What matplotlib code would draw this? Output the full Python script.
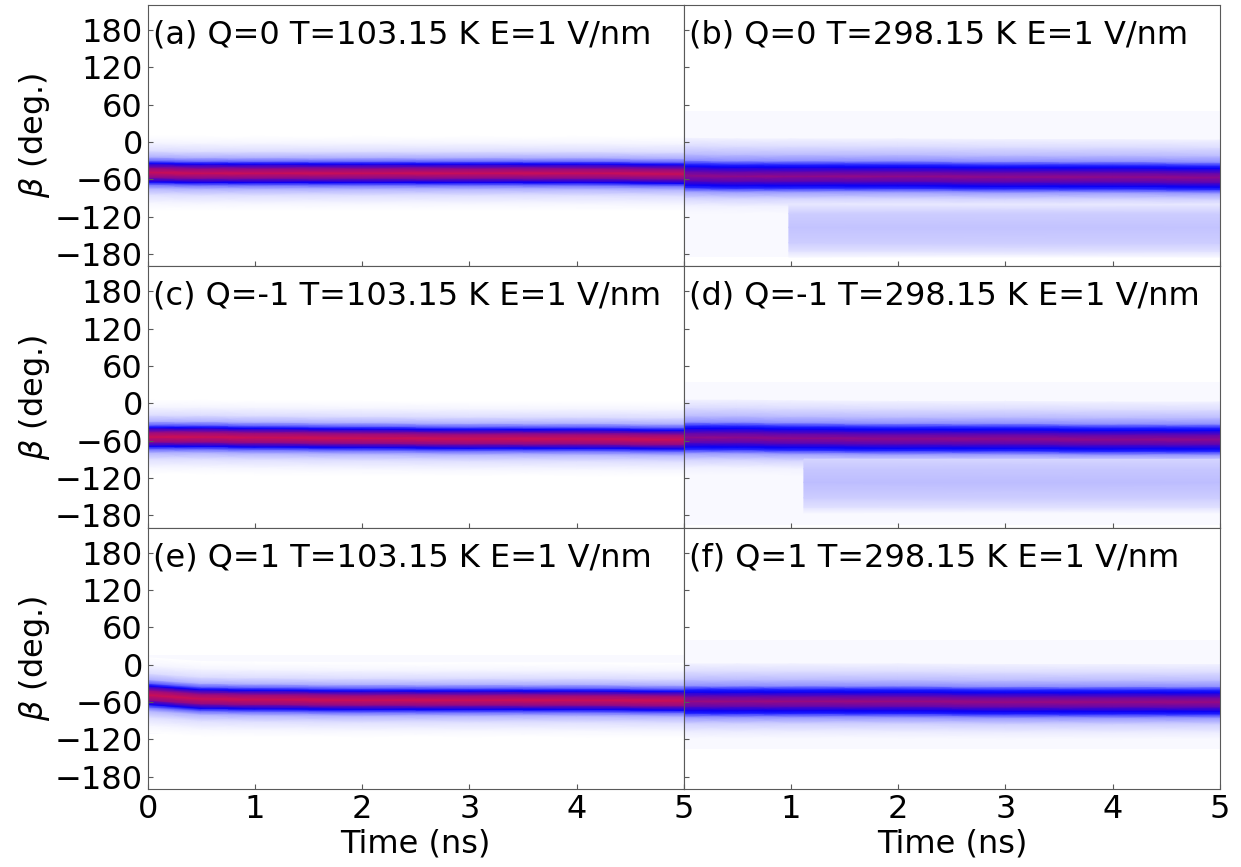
import numpy as np
import matplotlib
matplotlib.use("Agg")
import matplotlib.pyplot as plt
from matplotlib.colors import LinearSegmentedColormap

# panel titles
titles = ["(a) Q=0 T=103.15 K E=1 V/nm", "(b) Q=0 T=298.15 K E=1 V/nm",
          "(c) Q=-1 T=103.15 K E=1 V/nm", "(d) Q=-1 T=298.15 K E=1 V/nm",
          "(e) Q=1 T=103.15 K E=1 V/nm", "(f) Q=1 T=298.15 K E=1 V/nm"]

# time points (ns) where the band centre was read
t_pts = [0, 0.5, 1, 2, 3, 4, 5]

# centre of the main beta band (deg) at each time point, per panel
center_a = [-49, -50, -50, -50, -50, -50, -51]
center_b = [-54, -55, -55, -55, -56, -56, -57]
center_c = [-54, -54, -55, -56, -57, -57, -58]
center_d = [-55, -55, -56, -57, -57, -58, -58]
center_e = [-49, -55, -56, -57, -57, -57, -58]
center_f = [-59, -59, -59, -59, -60, -60, -60]

# density profile across the band: offset from centre (deg) and relative density
offsets = [-60, -48, -35, -25, -19, -15, -8, 0, 8, 15, 19, 25, 35, 48, 60]
dens_a = [0, 0.02, 0.07, 0.16, 0.3, 0.52, 0.82, 0.97, 0.82, 0.52, 0.3, 0.16, 0.07, 0.02, 0]
dens_b = [0.012, 0.03, 0.09, 0.2, 0.42, 0.52, 0.72, 0.84, 0.72, 0.52, 0.42, 0.22, 0.13, 0.07, 0.03]
dens_c = [0, 0.02, 0.07, 0.16, 0.32, 0.52, 0.84, 0.98, 0.84, 0.52, 0.32, 0.16, 0.07, 0.02, 0]
dens_d = [0.012, 0.03, 0.09, 0.2, 0.42, 0.52, 0.72, 0.84, 0.72, 0.52, 0.42, 0.22, 0.13, 0.07, 0.03]
dens_e = [0, 0.02, 0.07, 0.16, 0.32, 0.52, 0.84, 0.98, 0.84, 0.52, 0.32, 0.16, 0.07, 0.02, 0]
dens_f = [0.012, 0.04, 0.1, 0.22, 0.44, 0.53, 0.74, 0.86, 0.74, 0.53, 0.44, 0.22, 0.13, 0.07, 0.03]

# faint range covered by any sample (deg): low, high
range_a = [-110, 5]
range_b = [-185, 50]
range_c = [-107, 0]
range_d = [-196, 35]
range_e = [-112, 15]
range_f = [-135, 40]

# second (lower) population seen at 298.15 K for Q=0 and Q=-1
sec_onset = {"b": 0.98, "d": 1.12}
sec_center = {"b": -137, "d": -127}
sec_offsets = {"b": [-48, -38, -25, 0, 22, 37],
               "d": [-50, -40, -25, 0, 22, 37]}
sec_dens = {"b": [0.012, 0.06, 0.1, 0.12, 0.1, 0.045],
            "d": [0.012, 0.06, 0.1, 0.13, 0.11, 0.085]}

centers = [center_a, center_b, center_c, center_d, center_e, center_f]
dens = [dens_a, dens_b, dens_c, dens_d, dens_e, dens_f]
ranges = [range_a, range_b, range_c, range_d, range_e, range_f]
keys = ["a", "b", "c", "d", "e", "f"]

# white -> blue -> crimson
cmap = LinearSegmentedColormap.from_list("wbr", [
    (0.0, (1, 1, 1)),
    (0.5, (0, 0, 1)),
    (0.72, (0.35, 0.02, 0.72)),
    (1.0, (0.84, 0.06, 0.3))])

plt.rcParams["font.family"] = "DejaVu Sans"
fig, axes = plt.subplots(3, 2, figsize=(12.41, 8.67), dpi=100, sharey=True)
fig.subplots_adjust(left=0.119, right=0.983, top=0.994, bottom=0.09,
                    hspace=0, wspace=0)

fs = 23
t = np.array(t_pts, dtype=float)
for i, ax in enumerate(axes.flat):
    k = keys[i]
    # faint backdrop for the sampled range
    lo, hi = ranges[i]
    ax.fill_between([0, 5], lo, hi, color=cmap(0.012), lw=0, zorder=0)

    X, Y = np.meshgrid(t, offsets)
    Y = Y + np.array(centers[i])[None, :]
    C = np.tile(np.array(dens[i])[:, None], (1, len(t)))
    ax.pcolormesh(X, Y, C, shading="gouraud", cmap=cmap, vmin=0, vmax=1,
                  antialiased=False, zorder=1)

    if k in sec_onset:
        st = np.array([sec_onset[k], 5.0])
        X2, Y2 = np.meshgrid(st, sec_offsets[k])
        Y2 = Y2 + sec_center[k]
        C2 = np.tile(np.array(sec_dens[k])[:, None], (1, len(st)))
        ax.pcolormesh(X2, Y2, C2, shading="gouraud", cmap=cmap, vmin=0, vmax=1,
                      antialiased=False, zorder=2)

    ax.set_xlim(0, 5)
    ax.set_ylim(-200, 220)
    ax.set_yticks([-180, -120, -60, 0, 60, 120, 180])
    ax.set_xticks([0, 1, 2, 3, 4, 5])
    ax.tick_params(direction="in", labelsize=fs, color="0.35")
    for sp in ax.spines.values():
        sp.set_color("0.35")
        sp.set_zorder(5)
    ax.text(0.01, 0.945, titles[i], transform=ax.transAxes, fontsize=fs,
            va="top", ha="left", zorder=6)
    if i % 2 == 0:
        ax.set_ylabel(r"$\beta$ (deg.)", fontsize=fs, labelpad=2)
    if i < 4:
        ax.tick_params(labelbottom=False)
    else:
        ax.set_xlabel("Time (ns)", fontsize=fs, labelpad=3)
        if i == 5:
            ax.set_xticklabels(["", "1", "2", "3", "4", "5"])

fig.savefig("out.png", dpi=100)
